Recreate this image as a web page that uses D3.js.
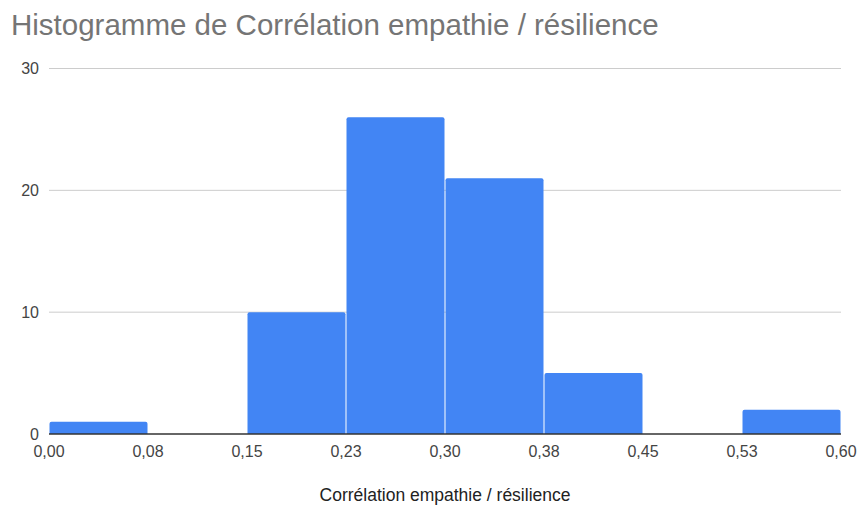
<!DOCTYPE html>
<html>
<head>
<meta charset="utf-8">
<script src="https://cdn.jsdelivr.net/npm/d3@7"></script>
<style>
  body { margin: 0; background: #fff; }
  svg { display: block; font-family: "Liberation Sans", Arial, sans-serif; }
</style>
</head>
<body>
<div id="chart"></div>
<script>
// histogram bins (lower edge, upper edge) and counts
const binEdges = [0, 0.075, 0.15, 0.225, 0.30, 0.375, 0.45, 0.525, 0.60];
const counts = [1, 0, 10, 26, 21, 5, 0, 2];
const xTickLabels = ['0,00', '0,08', '0,15', '0,23', '0,30', '0,38', '0,45', '0,53', '0,60'];
const yTicks = [0, 10, 20, 30];

const width = 861;
const height = 506;
const margin = { top: 68.5, right: 20, bottom: 72, left: 49 };

const bins = counts.map((c, i) => ({ x0: binEdges[i], x1: binEdges[i + 1], count: c }));

const x = d3.scaleLinear()
  .domain([0, 0.6])
  .range([margin.left, 841]);

const y = d3.scaleLinear()
  .domain([0, 30])
  .range([height - margin.bottom, margin.top]);

const svg = d3.select("#chart")
  .append("svg")
  .attr("width", width)
  .attr("height", height);

// title
svg.append("text")
  .attr("x", 11)
  .attr("y", 35)
  .attr("fill", "#757575")
  .style("font-size", "29.5px")
  .text("Histogramme de Corrélation empathie / résilience");

// grid lines
svg.append("g")
  .selectAll("line")
  .data(yTicks.slice(1))
  .join("line")
  .attr("x1", x(0))
  .attr("x2", x(0.6))
  .attr("y1", d => y(d))
  .attr("y2", d => y(d))
  .attr("stroke", "#cccccc")
  .attr("stroke-width", 1);

// y labels
svg.append("g")
  .attr("text-anchor", "end")
  .selectAll("text")
  .data(yTicks)
  .join("text")
  .attr("x", 39)
  .attr("y", d => y(d))
  .attr("dy", "0.35em")
  .attr("fill", "#444")
  .style("font-size", "16px")
  .text(d => d);

// bars, rounded top corners
const r = 2;
svg.append("g")
  .attr("fill", "#4285f4")
  .selectAll("path")
  .data(bins.filter(d => d.count > 0))
  .join("path")
  .attr("d", d => {
    const x0 = x(d.x0) + 0.5, x1 = x(d.x1) - 0.5;
    const y0 = y(0), y1 = y(d.count);
    return `M${x0},${y0}V${y1 + r}Q${x0},${y1} ${x0 + r},${y1}H${x1 - r}Q${x1},${y1} ${x1},${y1 + r}V${y0}Z`;
  });

// baseline
svg.append("line")
  .attr("x1", x(0))
  .attr("x2", x(0.6))
  .attr("y1", y(0))
  .attr("y2", y(0))
  .attr("stroke", "#333")
  .attr("stroke-width", 1.5);

// x labels at bin edges
svg.append("g")
  .attr("text-anchor", "middle")
  .selectAll("text")
  .data(binEdges)
  .join("text")
  .attr("x", d => x(d))
  .attr("y", 457)
  .attr("fill", "#444")
  .style("font-size", "16px")
  .text((d, i) => xTickLabels[i]);

// x axis title
svg.append("text")
  .attr("x", 445)
  .attr("y", 501)
  .attr("text-anchor", "middle")
  .attr("fill", "#222")
  .style("font-size", "17.5px")
  .text("Corrélation empathie / résilience");
</script>
</body>
</html>
